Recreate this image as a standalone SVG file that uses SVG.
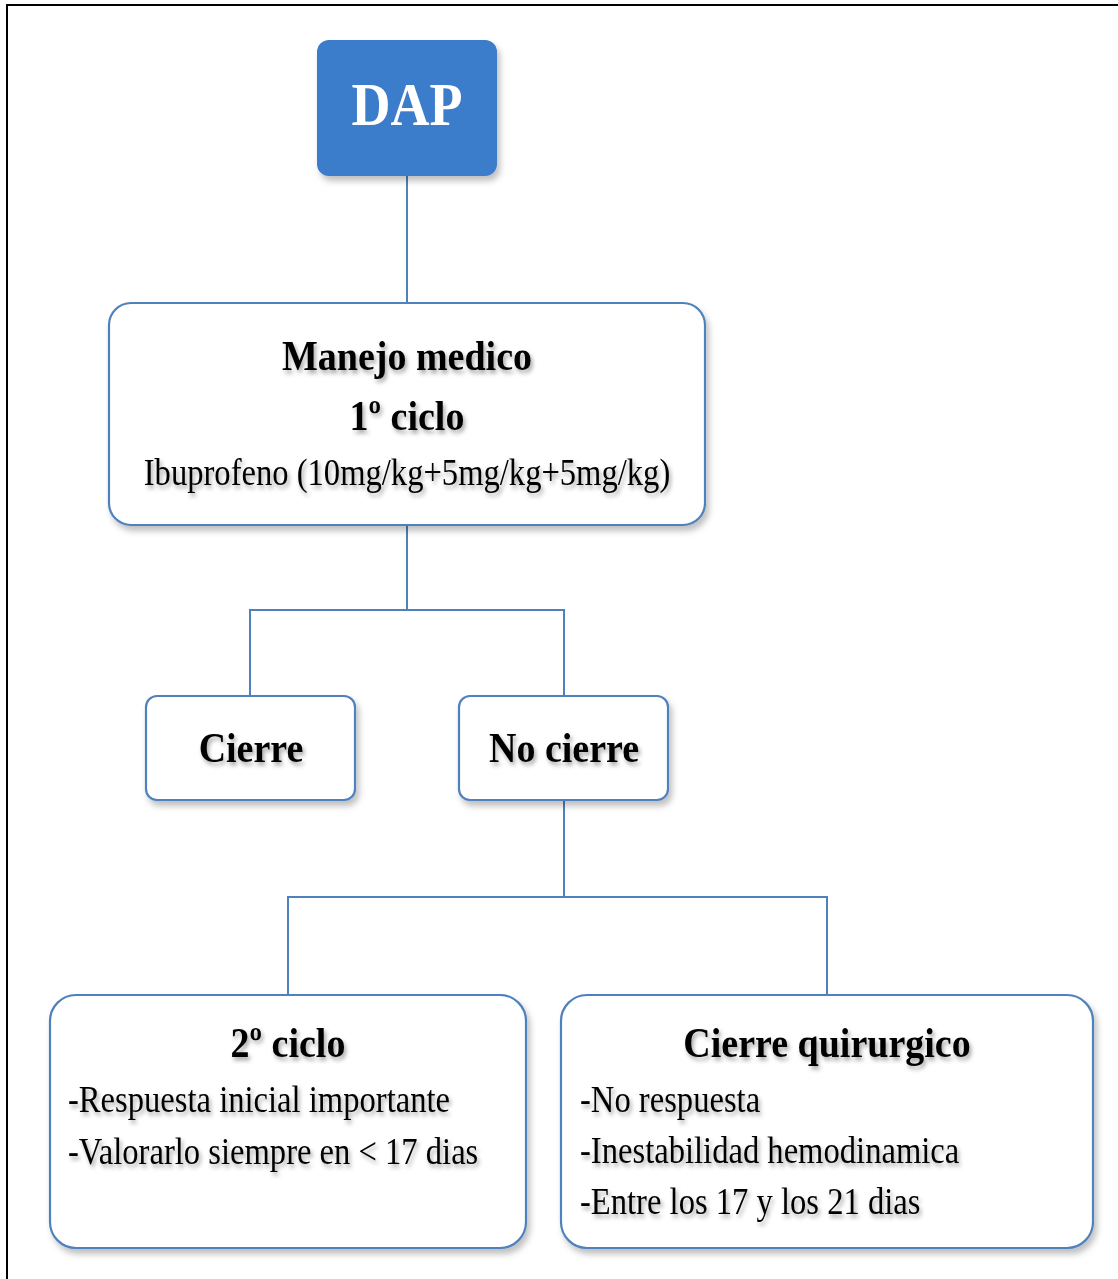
<svg xmlns="http://www.w3.org/2000/svg" width="1118" height="1279" viewBox="0 0 1118 1279">
<defs>
<filter id="bshadow" x="-10%" y="-10%" width="125%" height="130%">
<feDropShadow dx="3" dy="5" stdDeviation="3" flood-color="#000" flood-opacity="0.25"/>
</filter>
<filter id="tshadow" x="-5%" y="-20%" width="115%" height="160%">
<feDropShadow dx="2" dy="3" stdDeviation="2" flood-color="#000" flood-opacity="0.35"/>
</filter>
<style>
.box{fill:#fff;stroke:#4F81BD;stroke-width:2.2;filter:url(#bshadow)}
.conn{fill:none;stroke:#4F81BD;stroke-width:2}
.t{font-family:"Liberation Serif","Times New Roman",serif;fill:#000;filter:url(#tshadow)}
.b{font-weight:bold;font-size:38px}
.r{font-size:32.6px}
.c{text-anchor:middle}
</style>
</defs>
<rect x="0" y="0" width="1118" height="1279" fill="#fff"/>
<rect x="7" y="5" width="1130" height="1300" fill="none" stroke="#000" stroke-width="2"/>
<g id="connectors">
<path class="conn" d="M407 176V303"/>
<path class="conn" d="M407 525V610M250 696V610H564V696"/>
<path class="conn" d="M564 800V897M288 995V897H827V995"/>
</g>
<g id="dap">
<rect x="317" y="40" width="180" height="136" rx="12" fill="#3B7BCB" filter="url(#bshadow)"/>
<text class="t" transform="translate(407,125) scale(1,1.15)" text-anchor="middle" font-size="54" font-weight="bold" fill="#fff" style="fill:#fff;filter:none">DAP</text>
</g>
<g id="manejo">
<rect class="box" x="109" y="303" width="596" height="222" rx="22"/>
<text class="t b c" transform="translate(407,370) scale(1,1.12)">Manejo medico</text>
<text class="t b c" transform="translate(407,430) scale(1,1.12)">1º ciclo</text>
<text class="t r c" transform="translate(407,485) scale(1,1.15)">Ibuprofeno (10mg/kg+5mg/kg+5mg/kg)</text>
</g>
<g id="cierre">
<rect class="box" x="146" y="696" width="209" height="104" rx="11"/>
<text class="t b c" transform="translate(251,762) scale(1,1.12)">Cierre</text>
</g>
<g id="nocierre">
<rect class="box" x="459" y="696" width="209" height="104" rx="11"/>
<text class="t b c" transform="translate(564,762) scale(1,1.12)">No cierre</text>
</g>
<g id="ciclo2">
<rect class="box" x="50" y="995" width="476" height="253" rx="26"/>
<text class="t b c" transform="translate(288,1057) scale(1,1.12)">2º ciclo</text>
<text class="t r" transform="translate(68,1112) scale(1,1.15)">-Respuesta inicial importante</text>
<text class="t r" transform="translate(68,1164) scale(1,1.15)">-Valorarlo siempre en &lt; 17 dias</text>
</g>
<g id="quirurgico">
<rect class="box" x="561" y="995" width="532" height="253" rx="26"/>
<text class="t b c" transform="translate(827,1057) scale(1,1.12)">Cierre quirurgico</text>
<text class="t r" transform="translate(580,1112) scale(1,1.15)">-No respuesta</text>
<text class="t r" transform="translate(580,1163) scale(1,1.15)">-Inestabilidad hemodinamica</text>
<text class="t r" transform="translate(580,1214) scale(1,1.15)">-Entre los 17 y los 21 dias</text>
</g>
</svg>
